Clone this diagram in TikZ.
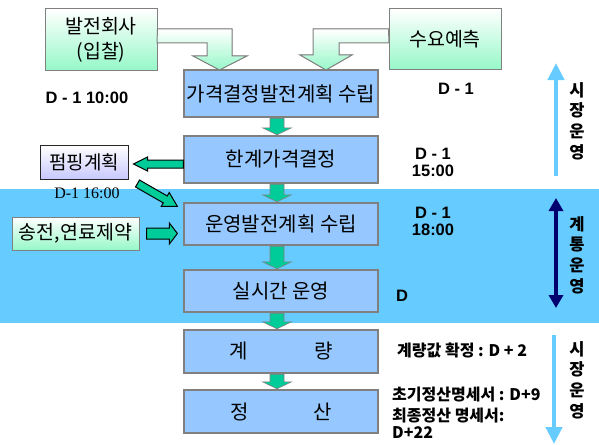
\documentclass[tikz,border=0pt]{standalone}
\usepackage{fontspec}
\setmainfont{Noto Sans CJK KR}
\newfontfamily\latb{Liberation Sans}
\newfontfamily\tms{Liberation Serif}
\usetikzlibrary{calc,arrows.meta}
\definecolor{band}{RGB}{102,204,255}
\definecolor{boxblue}{RGB}{150,200,255}
\definecolor{boxgray}{RGB}{128,128,128}
\definecolor{mint}{RGB}{150,248,200}
\definecolor{lav}{RGB}{200,200,255}
\definecolor{garrow}{RGB}{0,204,153}
\definecolor{navyc}{RGB}{0,0,110}
\definecolor{mkt}{RGB}{102,204,255}
\newcommand\blockarr[6]{%
  \coordinate (bah) at ($(#2)!#5!(#1)$);
  \path[#6] ($(#1)!#3!90:(#2)$) -- ($(bah)!#3!90:(#2)$) -- ($(bah)!#4!90:(#2)$) -- (#2)
    -- ($(bah)!#4!-90:(#2)$) -- ($(bah)!#3!-90:(#2)$) -- ($(#1)!#3!-90:(#2)$) -- cycle;}
\begin{document}
\begin{tikzpicture}[x=1pt,y=-1pt,
  mainbox/.style={draw=boxgray, line width=1.2pt, top color=boxblue, middle color=white, bottom color=boxblue,
    minimum width=194pt, inner sep=0pt, font=\fontsize{20}{22}\selectfont},
  greenbox/.style={draw=boxgray, line width=1pt, top color=white, bottom color=mint, inner sep=0pt,
    font=\fontsize{19.5}{25}\selectfont, align=center},
  pumpbox/.style={draw=black!85, line width=1pt, top color=white, bottom color=lav, inner sep=0pt,
    font=\fontsize{19}{20}\selectfont},
  bentarrow/.style={draw=boxgray, line width=1pt, top color=white, bottom color=mint},
  downarr/.style={fill=garrow, draw=boxgray, line width=0.6pt},
  sidearr/.style={fill=garrow, draw=black, line width=1pt},
  dlbl/.style={font=\latb\bfseries\fontsize{16.5}{16}\selectfont, inner sep=0pt, align=center},
  klbl/.style={font=\bfseries\fontsize{16}{18}\selectfont, inner sep=0pt, anchor=west},
  vtxt/.style={font=\bfseries\fontsize{16.5}{20.7}\selectfont, inner sep=0pt, align=center},
  mktarrow/.style={line width=4.5pt, draw=mkt, -{Triangle[width=16pt,length=17pt]}}
]
\useasboundingbox (0,0) rectangle (599,444);
\fill[band] (0,189) rectangle (599,323);

% top source boxes
\node[greenbox, minimum width=112pt, minimum height=61pt] (gen) at (101,39.5) {발전회사\\(입찰)};
\node[greenbox, minimum width=112pt, minimum height=60pt] (dem) at (445,39) {수요예측};

% main boxes
\node[mainbox, minimum height=47pt] (b1) at (281,93.5) {가격결정발전계획 수립};
\node[mainbox, minimum height=47pt] (b2) at (281,159.5) {한계가격결정};
\node[mainbox, minimum height=42pt] (b3) at (281,224) {운영발전계획 수립};
\node[mainbox, minimum height=42pt] (b4) at (281,291) {실시간 운영};
\node[mainbox, minimum height=43pt] (b5) at (281,351.5) {계\hspace{67pt}량};
\node[mainbox, minimum height=43pt] (b6) at (281,411.5) {정\hspace{65pt}산};

% bent arrows from the source boxes
\filldraw[bentarrow] (gen.east |- 0,29) -- (232,29) -- (232,56) -- (247,56) -- (219.5,70) -- (193,56)
  -- (207,56) -- (207,43) -- (157,43) -- cycle;
\filldraw[bentarrow] (dem.west |- 0,29) -- (313,29) -- (313,55) -- (300,55) -- (326,70) -- (352,55)
  -- (339,55) -- (339,43) -- (389,43) -- cycle;

% side boxes
\node[pumpbox, minimum width=88pt, minimum height=34pt] (pump) at (84,162) {펌핑계획};
\node[greenbox, minimum width=127pt, minimum height=33pt] (trans) at (75.5,233.5) {송전,연료제약};

% down arrows between main boxes
\foreach \a/\b in {b1/b2,b2/b3,b3/b4,b4/b5,b5/b6}{
  \coordinate (s) at ($(\a.south)+(-4,0.6)$);
  \coordinate (e) at ($(\b.north)+(-4,-0.6)$);
  \blockarr{s}{e}{7pt}{14.5pt}{7pt}{downarr}
}

% side arrows
\coordinate (la1) at (b2.west |- 0,164);
\coordinate (la2) at ($(pump.east |- 0,164)+(5,0)$);
\blockarr{la1}{la2}{4pt}{7pt}{14pt}{sidearr}
\coordinate (da1) at ($(pump.south east)+(9,4)$);
\coordinate (da2) at ($(b3.north west)+(-6,4)$);
\blockarr{da1}{da2}{4pt}{8pt}{14pt}{sidearr}
\coordinate (ra1) at ($(trans.east)+(7,0)$);
\coordinate (ra2) at ($(b3.west |- trans.east)+(-6,0)$);
\blockarr{ra1}{ra2}{5.5pt}{10.5pt}{8pt}{sidearr}

% time labels
\node[dlbl] (t1) at (87,98) {D - 1 10:00};
\node[dlbl] (t2) at (456,89) {D - 1};
\node[dlbl] (t3a) at (433,154) {D - 1};
\node[dlbl] (t3b) at (433,170.5) {15:00};
\node[dlbl] (t4a) at (433,213) {D - 1};
\node[dlbl] (t4b) at (433,229.5) {18:00};
\node[dlbl] (t5) at (402,296) {D};
\node[font=\tms\fontsize{16}{16}\selectfont, inner sep=0pt] (t6) at (87,193) {D-1 16:00};

\node[klbl] (k1) at (397,350) {계량값 확정 : D + 2};
\node[klbl] (k2) at (392,395) {초기정산명세서 : D+9};
\node[klbl] (k3) at (392,416) {최종정산 명세서:};
\node[klbl] (k4) at (392,433) {D+22};

% right side arrows and texts
\coordinate (m1a) at (556,176);
\coordinate (m1b) at (556,63);
\draw[mktarrow] (m1a) -- (m1b);
\coordinate (n1a) at (556,198);
\coordinate (n1b) at (556,308);
\draw[line width=4pt, navyc, {Triangle[width=14pt,length=13pt]}-{Triangle[width=14pt,length=13pt]}] (n1a) -- (n1b);
\coordinate (m2a) at (554,335);
\coordinate (m2b) at (554,444);
\draw[mktarrow] (m2a) -- (m2b);

\node[vtxt] (v1) at (577,121) {시\\장\\운\\영};
\node[vtxt] (v2) at (577,255) {계\\통\\운\\영};
\node[vtxt] (v3) at (577,380) {시\\장\\운\\영};
\end{tikzpicture}
\end{document}
